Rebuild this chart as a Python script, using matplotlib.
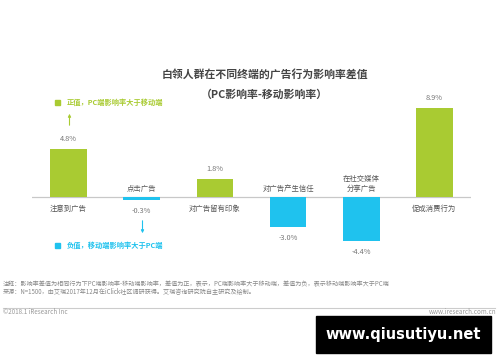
import matplotlib
matplotlib.use("Agg")
import matplotlib.pyplot as plt
from matplotlib.patches import Rectangle

plt.rcParams['font.family'] = ['Noto Sans CJK SC', 'DejaVu Sans']

categories = ['注意到广告', '点击广告', '对广告留有印象', '对广告产生信任', '在社交媒体\n分享广告', '促成消费行为']
values = [4.8, -0.3, 1.8, -3.0, -4.4, 8.9]
value_labels = ['4.8%', '-0.3%', '1.8%', '-3.0%', '-4.4%', '8.9%']

title1 = '白领人群在不同终端的广告行为影响率差值'
title2 = '（PC影响率-移动影响率）'
pos_note = '正值，PC端影响率大于移动端'
neg_note = '负值，移动端影响率大于PC端'
foot1 = '注释：影响率差值为相同行为下PC端影响率-移动端影响率，差值为正，表示，PC端影响率大于移动端，差值为负，表示移动端影响率大于PC端'
foot2 = '来源：N=1500，由艾瑞2017年12月在iClick社区调研获得。艾瑞咨询研究院自主研究及绘制。'

GREEN = '#A9CB32'
BLUE = '#1FC2EE'
W, H = 500, 362


def px(x, y):
    return x / W, 1 - y / H


fig = plt.figure(figsize=(5, 3.62), dpi=100)
fig.patch.set_facecolor('white')
ax = fig.add_axes([32 / W, 1 - 260 / H, 439 / W, 200 / H])
ax.set_xlim(-0.5, 5.5)
ax.set_ylim(-6.3, 13.7)
ax.axis('off')

colors = [GREEN if v > 0 else BLUE for v in values]
ax.bar(range(len(values)), values, width=0.5, color=colors, zorder=2)
ax.axhline(0, color='#c8c8c8', lw=0.9, zorder=1)

for i, (v, lab, cat) in enumerate(zip(values, value_labels, categories)):
    if v > 0:
        ax.annotate(lab, (i, v), xytext=(0, 7), textcoords='offset points',
                    ha='center', va='center', fontsize=5.3, color='#777777')
        ax.annotate(cat, (i, 0), xytext=(0, -8.5), textcoords='offset points',
                    ha='center', va='center', fontsize=5.3, color='#555555')
    else:
        ax.annotate(lab, (i, v), xytext=(0, -8), textcoords='offset points',
                    ha='center', va='center', fontsize=5.3, color='#777777')
        ax.annotate(cat, (i, 0), xytext=(0, 3), textcoords='offset points',
                    ha='center', va='bottom', fontsize=5.3, color='#555555',
                    linespacing=1.3)

# title
fig.text(*px(265, 75), title1, ha='center', va='center', fontsize=7.8,
         fontweight='bold', color='#444444')
fig.text(*px(264, 95), title2, ha='center', va='center', fontsize=7.8,
         fontweight='bold', color='#444444')

# positive / negative notes
fig.patches.append(Rectangle(px(54.5, 104.5), 5 / W, 5 / H, transform=fig.transFigure,
                             color=GREEN))
fig.text(*px(67, 102), pos_note, ha='left', va='center', fontsize=5.2,
         color=GREEN, fontweight='bold')
fig.patches.append(Rectangle(px(54.5, 248), 5 / W, 5 / H, transform=fig.transFigure,
                             color=BLUE))
fig.text(*px(67, 245.5), neg_note, ha='left', va='center', fontsize=5.2,
         color=BLUE, fontweight='bold')
ax.annotate('', xy=px(69.5, 111), xycoords='figure fraction',
            xytext=px(69.5, 128), textcoords='figure fraction',
            arrowprops=dict(arrowstyle='-|>', color=GREEN, lw=0.8, mutation_scale=4))
ax.annotate('', xy=px(142.5, 236), xycoords='figure fraction',
            xytext=px(142.5, 218), textcoords='figure fraction',
            arrowprops=dict(arrowstyle='-|>', color=BLUE, lw=0.8, mutation_scale=4))

# footer
fig.text(*px(3, 284), foot1, ha='left', va='center', fontsize=4.4, color='#888888')
fig.text(*px(3, 291.5), foot2, ha='left', va='center', fontsize=4.4, color='#888888')
fig.add_artist(plt.Line2D([3 / W, 495 / W], [1 - 308 / H] * 2, color='#cccccc', lw=0.8))
fig.text(*px(3, 312), '©2018.1 iResearch Inc', ha='left', va='center', fontsize=4.5,
         color='#999999')
fig.text(*px(496, 312), 'www.iresearch.com.cn', ha='right', va='center', fontsize=4.5,
         color='#999999', zorder=5)

# watermark
fig.patches.append(Rectangle(px(316, 353), 175 / W, 37 / H, transform=fig.transFigure,
                             color='black'))
fig.text(*px(403.5, 334.5), 'www.qiusutiyu.net', ha='center', va='center', fontsize=10.5,
         fontweight='bold', color='white', family='DejaVu Sans')

fig.savefig('out.png', dpi=100, facecolor='white')
